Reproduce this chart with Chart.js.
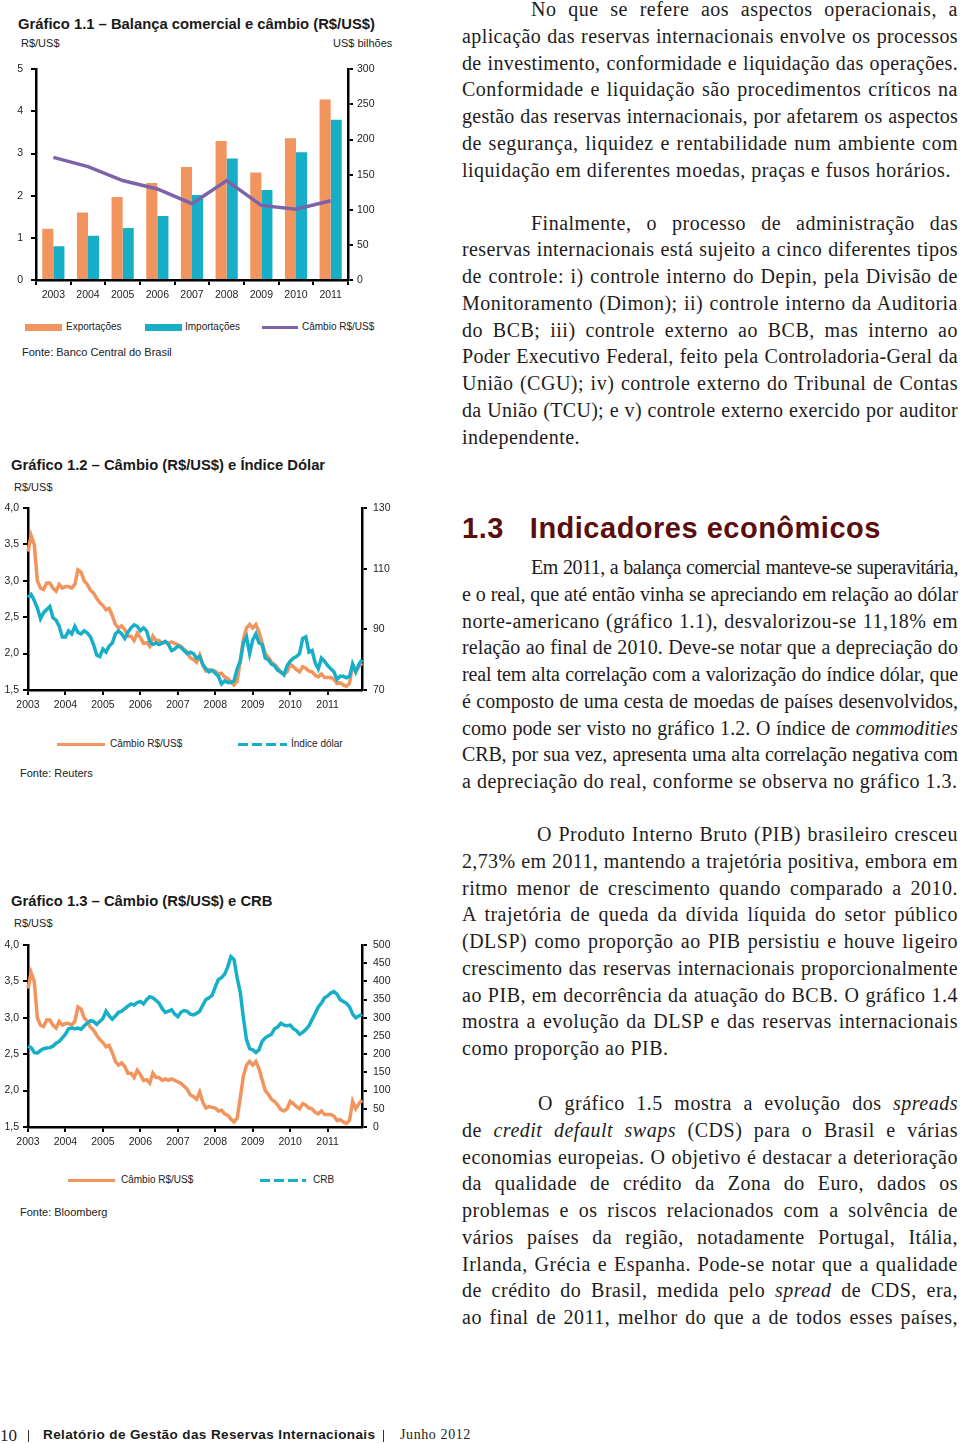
<!DOCTYPE html>
<html lang="pt-BR">
<head>
<meta charset="utf-8">
<title>Relatório de Gestão das Reservas Internacionais</title>
<script src="https://cdn.jsdelivr.net/npm/chart.js@4.4.0/dist/chart.umd.min.js"></script>
<style>
  html, body { margin: 0; padding: 0; background: #fff; }
  body { width: 960px; height: 1444px; position: relative; overflow: hidden; color: #1e1c1c; }
  .abs { position: absolute; }
  .gtit { font: bold 14.8px "Liberation Sans", Arial, sans-serif; letter-spacing: 0px; color: #1a1a1a; white-space: nowrap; }
  .unid { font: 11px "Liberation Sans", Arial, sans-serif; color: #222; white-space: nowrap; }
  .leg { font: 10px "Liberation Sans", Arial, sans-serif; color: #222; white-space: nowrap; }
  .fonte { font: 11px "Liberation Sans", Arial, sans-serif; color: #222; white-space: nowrap; }
  canvas { position: absolute; }
  .txt { position: absolute; left: 462px; width: 496px; font: 20px "Liberation Serif", "Times New Roman", serif; letter-spacing: 0.5px; line-height: 26.75px; color: #1e1c1c; }
  .txt .l { text-align: justify; text-align-last: justify; white-space: nowrap; }
  .txt .u { text-align: left; white-space: nowrap; }
  .ind { padding-left: 69px; }
  .h13 { font: bold 29px "Liberation Sans", Arial, sans-serif; color: #5a0e0e; letter-spacing: 0.5px; white-space: nowrap; }
</style>
</head>
<body>

<!-- ---------- Gráfico 1.1 ---------- -->
<div class="abs gtit" style="left:18px; top:16px;">Gráfico 1.1 – Balança comercial e câmbio (R$/US$)</div>
<div class="abs unid" style="left:21px; top:37px;">R$/US$</div>
<div class="abs unid" style="left:333px; top:37px;">US$ bilhões</div>
<canvas id="g11" width="400" height="250" style="left:0; top:55px;"></canvas>
<div class="abs" style="left:25px; top:324px; width:37px; height:7px; background:#f2945e;"></div>
<div class="abs leg" style="left:66px; top:321px;">Exportações</div>
<div class="abs" style="left:145px; top:324px; width:37px; height:7px; background:#17afc8;"></div>
<div class="abs leg" style="left:185px; top:321px;">Importações</div>
<div class="abs" style="left:262px; top:326px; width:36px; height:3px; background:#7d63a8;"></div>
<div class="abs leg" style="left:302px; top:321px;">Câmbio R$/US$</div>
<div class="abs fonte" style="left:22px; top:346px;">Fonte: Banco Central do Brasil</div>

<!-- ---------- Gráfico 1.2 ---------- -->
<div class="abs gtit" style="left:11px; top:457px;">Gráfico 1.2 – Câmbio (R$/US$) e Índice Dólar</div>
<div class="abs unid" style="left:14px; top:481px;">R$/US$</div>
<canvas id="g12" width="400" height="225" style="left:0; top:495px;"></canvas>
<div class="abs" style="left:57px; top:743px; width:48px; height:3px; background:#f2945e;"></div>
<div class="abs leg" style="left:110px; top:738px;">Câmbio R$/US$</div>
<div class="abs" style="left:238px; top:743px; width:49px; height:3px; background:repeating-linear-gradient(90deg,#17afc8 0 10px,transparent 10px 14px);"></div>
<div class="abs leg" style="left:291px; top:738px;">Índice dólar</div>
<div class="abs fonte" style="left:20px; top:767px;">Fonte: Reuters</div>

<!-- ---------- Gráfico 1.3 ---------- -->
<div class="abs gtit" style="left:11px; top:893px;">Gráfico 1.3 – Câmbio (R$/US$) e CRB</div>
<div class="abs unid" style="left:14px; top:917px;">R$/US$</div>
<canvas id="g13" width="400" height="225" style="left:0; top:932px;"></canvas>
<div class="abs" style="left:68px; top:1179px; width:47px; height:3px; background:#f2945e;"></div>
<div class="abs leg" style="left:121px; top:1174px;">Câmbio R$/US$</div>
<div class="abs" style="left:260px; top:1179px; width:46px; height:3px; background:repeating-linear-gradient(90deg,#17afc8 0 10px,transparent 10px 14px);"></div>
<div class="abs leg" style="left:313px; top:1174px;">CRB</div>
<div class="abs fonte" style="left:20px; top:1206px;">Fonte: Bloomberg</div>

<!-- ---------- Texto ---------- -->
<div class="txt" style="top:-4px;">
  <div class="l ind">No que se refere aos aspectos operacionais, a</div>
  <div class="l">aplicação das reservas internacionais envolve os processos</div>
  <div class="l">de investimento, conformidade e liquidação das operações.</div>
  <div class="l">Conformidade e liquidação são procedimentos críticos na</div>
  <div class="l">gestão das reservas internacionais, por afetarem os aspectos</div>
  <div class="l">de segurança, liquidez e rentabilidade num ambiente com</div>
  <div class="u">liquidação em diferentes moedas, praças e fusos horários.</div>
</div>
<div class="txt" style="top:209.5px;">
  <div class="l ind">Finalmente, o processo de administração das</div>
  <div class="l">reservas internacionais está sujeito a cinco diferentes tipos</div>
  <div class="l">de controle: i) controle interno do Depin, pela Divisão de</div>
  <div class="l">Monitoramento (Dimon); ii) controle interno da Auditoria</div>
  <div class="l">do BCB; iii) controle externo ao BCB, mas interno ao</div>
  <div class="l">Poder Executivo Federal, feito pela Controladoria-Geral da</div>
  <div class="l">União (CGU); iv) controle externo do Tribunal de Contas</div>
  <div class="l">da União (TCU); e v) controle externo exercido por auditor</div>
  <div class="u">independente.</div>
</div>
<div class="abs h13" style="left:462px; top:512px;">1.3<span style="display:inline-block; width:26px;"></span>Indicadores econômicos</div>
<div class="txt" style="top:554px;">
  <div class="l ind">Em 2011, a balança comercial manteve-se superavitária,</div>
  <div class="l">e o real, que até então vinha se apreciando em relação ao dólar</div>
  <div class="l">norte-americano (gráfico 1.1), desvalorizou-se 11,18% em</div>
  <div class="l">relação ao final de 2010. Deve-se notar que a depreciação do</div>
  <div class="l">real tem alta correlação com a valorização do índice dólar, que</div>
  <div class="l">é composto de uma cesta de moedas de países desenvolvidos,</div>
  <div class="l">como pode ser visto no gráfico 1.2. O índice de <i>commodities</i></div>
  <div class="l">CRB, por sua vez, apresenta uma alta correlação negativa com</div>
  <div class="u">a depreciação do real, conforme se observa no gráfico 1.3.</div>
</div>
<div class="txt" style="top:821px;">
  <div class="l" style="padding-left:75px;">O Produto Interno Bruto (PIB) brasileiro cresceu</div>
  <div class="l">2,73% em 2011, mantendo a trajetória positiva, embora em</div>
  <div class="l">ritmo menor de crescimento quando comparado a 2010.</div>
  <div class="l">A trajetória de queda da dívida líquida do setor público</div>
  <div class="l">(DLSP) como proporção ao PIB persistiu e houve ligeiro</div>
  <div class="l">crescimento das reservas internacionais proporcionalmente</div>
  <div class="l">ao PIB, em decorrência da atuação do BCB. O gráfico 1.4</div>
  <div class="l">mostra a evolução da DLSP e das reservas internacionais</div>
  <div class="u">como proporção ao PIB.</div>
</div>
<div class="txt" style="top:1090px;">
  <div class="l" style="padding-left:76px;">O gráfico 1.5 mostra a evolução dos <i>spreads</i></div>
  <div class="l">de <i>credit default swaps</i> (CDS) para o Brasil e várias</div>
  <div class="l">economias europeias. O objetivo é destacar a deterioração</div>
  <div class="l">da qualidade de crédito da Zona do Euro, dados os</div>
  <div class="l">problemas e os riscos relacionados com a solvência de</div>
  <div class="l">vários países da região, notadamente Portugal, Itália,</div>
  <div class="l">Irlanda, Grécia e Espanha. Pode-se notar que a qualidade</div>
  <div class="l">de crédito do Brasil, medida pelo <i>spread</i> de CDS, era,</div>
  <div class="l">ao final de 2011, melhor do que a de todos esses países,</div>
</div>

<!-- ---------- Rodapé ---------- -->
<div class="abs" style="left:0; top:1426px; font:17px 'Liberation Serif',serif; color:#222;">10</div>
<div class="abs" style="left:28px; top:1430px; width:1px; height:12px; background:#333;"></div>
<div class="abs" style="left:43px; top:1427px; font:bold 13.5px 'Liberation Sans',Arial,sans-serif; letter-spacing:0.4px; color:#1a1a1a; white-space:nowrap;">Relatório de Gestão das Reservas Internacionais</div>
<div class="abs" style="left:383px; top:1430px; width:1px; height:12px; background:#333;"></div>
<div class="abs" style="left:400px; top:1427px; font:14px 'Liberation Serif',serif; color:#222; letter-spacing:0.6px; white-space:nowrap;">Junho 2012</div>

<script>
/* ---------- dados: gráfico 1.1 (anual) ---------- */
var anosBarras = ["2003", "2004", "2005", "2006", "2007", "2008", "2009", "2010", "2011"];
var exportacoes = [73, 96, 118, 138, 161, 198, 153, 202, 257];     // US$ bilhões
var importacoes = [48, 63, 74, 91, 121, 173, 128, 182, 228];       // US$ bilhões
var cambioAnual = [2.91, 2.69, 2.36, 2.16, 1.81, 2.36, 1.77, 1.68, 1.88];

/* ---------- dados: gráficos 1.2 e 1.3 (mensal, jan/2003 a dez/2011) ---------- */
var anosEixo = ["2003", "2004", "2005", "2006", "2007", "2008", "2009", "2010", "2011"];

var cambioMensal = [
  3.40, 3.62, 3.50, 3.00, 2.90, 2.88, 2.97, 2.97, 2.90, 2.86, 2.95, 2.90,
  2.92, 2.92, 2.90, 2.95, 3.15, 3.12, 3.00, 2.95, 2.87, 2.83, 2.76, 2.70,
  2.66, 2.60, 2.62, 2.52, 2.40, 2.35, 2.38, 2.33, 2.24, 2.24, 2.18, 2.28,
  2.22, 2.14, 2.15, 2.10, 2.24, 2.18, 2.18, 2.14, 2.16, 2.14, 2.16, 2.14,
  2.12, 2.10, 2.06, 2.02, 1.94, 1.92, 1.88, 1.98, 1.84, 1.76, 1.78, 1.77,
  1.76, 1.72, 1.73, 1.68, 1.66, 1.61, 1.57, 1.62, 1.90, 2.20, 2.35, 2.40,
  2.35, 2.40, 2.30, 2.15, 2.00, 1.95, 1.88, 1.85, 1.80, 1.74, 1.72, 1.75,
  1.85, 1.82, 1.78, 1.75, 1.82, 1.80, 1.76, 1.75, 1.70, 1.68, 1.72, 1.67,
  1.67, 1.67, 1.65, 1.59, 1.60, 1.57, 1.55, 1.59, 1.85, 1.75, 1.82, 1.87
];

var indiceDolar = [
  100.5, 101.5, 99.5, 97.0, 93.5, 95.5, 96.5, 97.5, 93.8, 93.0, 91.0, 87.5,
  87.5, 89.5, 88.5, 91.0, 89.0, 88.5, 89.5, 88.8, 87.5, 85.0, 81.5, 81.0,
  83.5, 82.5, 84.5, 85.5, 88.5, 89.5, 88.5, 87.0, 89.0, 90.5, 91.5, 91.0,
  89.5, 90.5, 89.5, 86.0, 85.0, 85.5, 85.0, 85.5, 86.0, 85.0, 83.0, 83.5,
  84.5, 84.0, 83.0, 82.0, 82.5, 82.0, 80.5, 81.0, 78.5, 77.0, 76.0, 76.5,
  75.5, 74.5, 72.0, 73.0, 72.5, 72.5, 73.0, 77.0, 79.5, 85.5, 87.5, 82.0,
  86.5, 88.5, 85.5, 85.0, 80.5, 80.0, 78.5, 78.0, 76.5, 76.0, 75.0, 78.0,
  79.5, 80.5, 81.0, 82.0, 87.0, 87.5, 82.5, 83.0, 79.0, 77.0, 80.5, 79.5,
  78.0, 77.0, 76.0, 73.5, 74.5, 74.5, 74.0, 74.5, 78.5, 76.0, 78.5, 80.0
];

var crb = [
  222, 218, 205, 203, 210, 215, 217, 218, 222, 230, 235, 245,
  255, 270, 272, 270, 272, 268, 278, 285, 292, 290, 282, 290,
  298, 318, 305, 296, 305, 315, 318, 325, 332, 338, 335, 342,
  345, 338, 350, 358, 355, 348, 340, 325, 315, 318, 322, 310,
  303, 315, 320, 318, 310, 308, 312, 318, 335, 350, 355, 362,
  385, 405, 410, 420, 440, 468, 460, 410, 370, 300, 240, 215,
  212, 205, 212, 235, 245, 250, 255, 270, 275, 285, 280, 278,
  280, 270, 265, 255, 260, 268, 278, 295, 312, 330, 340, 355,
  360, 368, 372, 365, 350, 345, 340, 330, 310, 300, 305, 310
];

var ticksEsq = [1.5, 2.0, 2.5, 3.0, 3.5, 4.0];

/* ---------- estilos ---------- */
var LARANJA = "#f2945e";
var CIANO = "#17afc8";
var ROXO = "#7d63a8";
var TINTA = "#1e1e1e";
var FONTE_EIXO = { family: "'Liberation Sans', Arial, sans-serif", size: 10.5 };

function gridEixo() {
  return { drawOnChartArea: false, drawTicks: true, tickLength: 5, color: "#000", lineWidth: 2 };
}
function bordaEixo() {
  return { display: true, color: "#000", width: 2.5 };
}
function fixaLargura(w) {
  return function (scale) { scale.width = w; };
}
function fixaAltura(h) {
  return function (scale) { scale.height = h; };
}

/* rótulos mensais: um por mês, só janeiro mostra o ano */
var meses = [];
anosEixo.forEach(function (a) {
  for (var m = 1; m <= 12; m++) meses.push(a + "-" + m);
});
function rotuloAno(value, index) {
  return index % 12 === 0 ? meses[index].split("-")[0] : null;
}
function virgula(v) {
  return v.toFixed(1).replace(".", ",");
}

/* ---------- ajuste das linhas justificadas que não cabem ---------- */
function ajustaLinhas() {
  var linhas = document.querySelectorAll(".txt .l");
  Array.prototype.forEach.call(linhas, function (el) {
    var cs = getComputedStyle(el);
    var disp = el.clientWidth - parseFloat(cs.paddingLeft);
    el.style.textAlign = "left";
    el.style.textAlignLast = "left";
    var r = document.createRange();
    r.selectNodeContents(el);
    var ls = parseFloat(cs.letterSpacing) || 0;
    var n = 0;
    while (r.getBoundingClientRect().width > disp - 2 && n < 40) {
      ls -= 0.05;
      el.style.letterSpacing = ls + "px";
      n++;
    }
    el.style.textAlign = "";
    el.style.textAlignLast = "";
  });
}
ajustaLinhas();

Chart.defaults.animation = false;
Chart.defaults.color = TINTA;

/* ---------- Gráfico 1.1 ---------- */
new Chart(document.getElementById("g11"), {
  type: "bar",
  data: {
    labels: anosBarras,
    datasets: [
      { type: "line", label: "Câmbio R$/US$", data: cambioAnual, yAxisID: "y", borderColor: ROXO, borderWidth: 3.5, pointRadius: 0, tension: 0, order: 0 },
      { label: "Exportações", data: exportacoes, yAxisID: "y1", backgroundColor: LARANJA, categoryPercentage: 0.64, barPercentage: 1.0, order: 1 },
      { label: "Importações", data: importacoes, yAxisID: "y1", backgroundColor: CIANO, categoryPercentage: 0.64, barPercentage: 1.0, order: 1 }
    ]
  },
  options: {
    responsive: false,
    layout: { padding: { top: 13, left: 0, right: 0, bottom: 0 } },
    plugins: { legend: { display: false }, tooltip: { enabled: false } },
    scales: {
      x: {
        offset: true,
        grid: Object.assign(gridEixo(), { offset: true }),
        border: bordaEixo(),
        ticks: { font: FONTE_EIXO, padding: 4, maxRotation: 0, color: TINTA },
        afterFit: fixaAltura(25)
      },
      y: {
        position: "left", min: 0, max: 5,
        grid: gridEixo(), border: bordaEixo(),
        ticks: { stepSize: 1, font: FONTE_EIXO, padding: 8, color: TINTA },
        afterFit: fixaLargura(36)
      },
      y1: {
        position: "right", min: 0, max: 300,
        grid: gridEixo(), border: bordaEixo(),
        ticks: { stepSize: 50, font: FONTE_EIXO, padding: 4, color: TINTA },
        afterFit: fixaLargura(52)
      }
    }
  }
});

/* ---------- gráficos diários (1.2 e 1.3) ---------- */
function graficoLinhas(id, serieDir, dirMin, dirMax, dirPasso) {
  return new Chart(document.getElementById(id), {
    type: "line",
    data: {
      labels: meses,
      datasets: [
        { label: "Câmbio R$/US$", data: cambioMensal, yAxisID: "y", borderColor: LARANJA, borderWidth: 3.5, pointRadius: 0, tension: 0, order: 1 },
        { label: "direita", data: serieDir, yAxisID: "y1", borderColor: CIANO, borderWidth: 3.5, pointRadius: 0, tension: 0, order: 0 }
      ]
    },
    options: {
      responsive: false,
      layout: { padding: { top: 13, left: 0, right: 0, bottom: 0 } },
      plugins: { legend: { display: false }, tooltip: { enabled: false } },
      scales: {
        x: {
          offset: false,
          grid: gridEixo(), border: bordaEixo(),
          ticks: { autoSkip: false, maxRotation: 0, font: FONTE_EIXO, padding: 4, color: TINTA, callback: rotuloAno },
          afterFit: fixaAltura(30)
        },
        y: {
          position: "left", min: 1.5, max: 4.0,
          grid: gridEixo(), border: bordaEixo(),
          afterBuildTicks: function (scale) {
            scale.ticks = ticksEsq.map(function (v) { return { value: v }; });
          },
          ticks: { font: FONTE_EIXO, padding: 4, color: TINTA, callback: virgula },
          afterFit: fixaLargura(28)
        },
        y1: {
          position: "right", min: dirMin, max: dirMax,
          grid: gridEixo(), border: bordaEixo(),
          ticks: { stepSize: dirPasso, font: FONTE_EIXO, padding: 6, color: TINTA },
          afterFit: fixaLargura(38)
        }
      }
    }
  });
}

graficoLinhas("g12", indiceDolar, 70, 130, 20);
graficoLinhas("g13", crb, 0, 500, 50);
</script>
</body>
</html>
